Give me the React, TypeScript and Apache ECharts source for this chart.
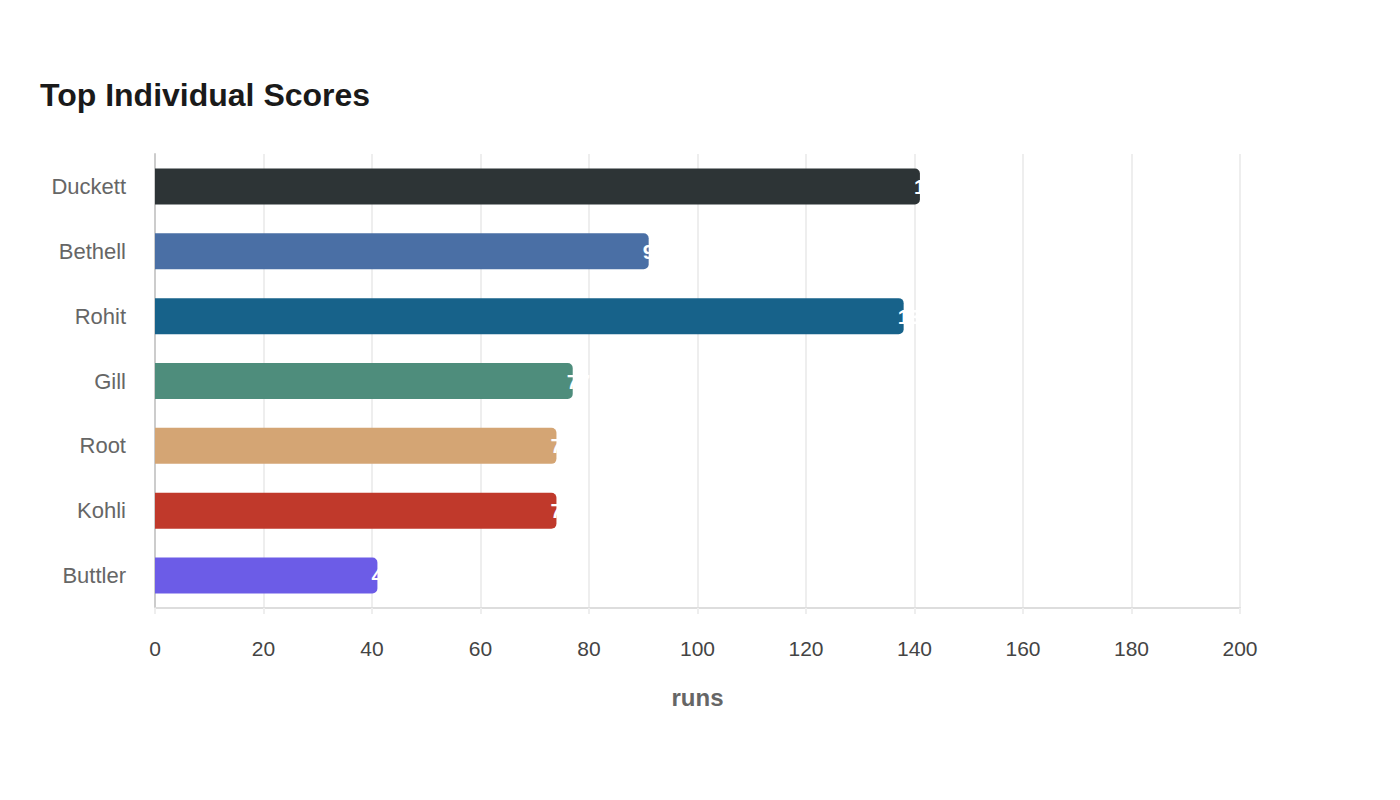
import React, { useEffect, useRef } from "react";
import * as echarts from "echarts";

const players = ["Duckett", "Bethell", "Rohit", "Gill", "Root", "Kohli", "Buttler"];
const runs = [141, 91, 138, 77, 74, 74, 41];
const barColors = ["#2d3436", "#4a6fa5", "#17628a", "#4e8d7c", "#d4a574", "#c0392b", "#6c5ce7"];
const xTicks = [0, 200, 20];

export default function App() {
  const ref = useRef<HTMLDivElement>(null);
  useEffect(() => {
    if (!ref.current) return;
    const chart = echarts.init(ref.current, null, { renderer: "svg" });
    chart.setOption({
      animation: false,
      backgroundColor: "#ffffff",
      title: {
        text: "Top Individual Scores",
        left: 27,
        top: 66,
        textStyle: { fontFamily: "Liberation Sans, Arial, sans-serif", fontSize: 32, fontWeight: "bold", color: "#1a1a1a" },
      },
      grid: { left: 147, right: 152, top: 146, bottom: 184, containLabel: false },
      xAxis: {
        type: "value",
        min: xTicks[0],
        max: xTicks[1],
        interval: xTicks[2],
        name: "runs",
        nameLocation: "middle",
        nameGap: 77,
        nameTextStyle: { fontFamily: "Liberation Sans, Arial, sans-serif", fontSize: 24, fontWeight: "bold", color: "#666666" },
        axisLine: { show: true, lineStyle: { color: "#dddddd", width: 2 } },
        axisTick: { show: true, length: 6, lineStyle: { color: "#eeeeee", width: 2 } },
        axisLabel: { fontFamily: "Liberation Sans, Arial, sans-serif", fontSize: 21, color: "#444444", margin: 30 },
        splitLine: { show: true, lineStyle: { color: "#eeeeee", width: 2 } },
      },
      yAxis: {
        type: "category",
        data: players,
        inverse: true,
        axisLine: { show: true, lineStyle: { color: "#cccccc", width: 2 } },
        axisTick: { show: false },
        axisLabel: { fontFamily: "Liberation Sans, Arial, sans-serif", fontSize: 22, color: "#666666", margin: 29 },
        splitLine: { show: false },
      },
      series: [
        {
          type: "bar",
          data: runs.map((v, i) => ({ value: v, itemStyle: { color: barColors[i] } })),
          barWidth: 36,
          itemStyle: { borderRadius: [0, 5, 5, 0] },
          label: {
            show: true,
            position: "right",
            distance: -6,
            color: "#ffffff",
            fontFamily: "Liberation Sans, Arial, sans-serif",
            fontSize: 21,
            fontWeight: "bold",
          },
        },
      ],
    });
    return () => chart.dispose();
  }, []);
  return <div ref={ref} style={{ width: 1384, height: 784 }} />;
}
